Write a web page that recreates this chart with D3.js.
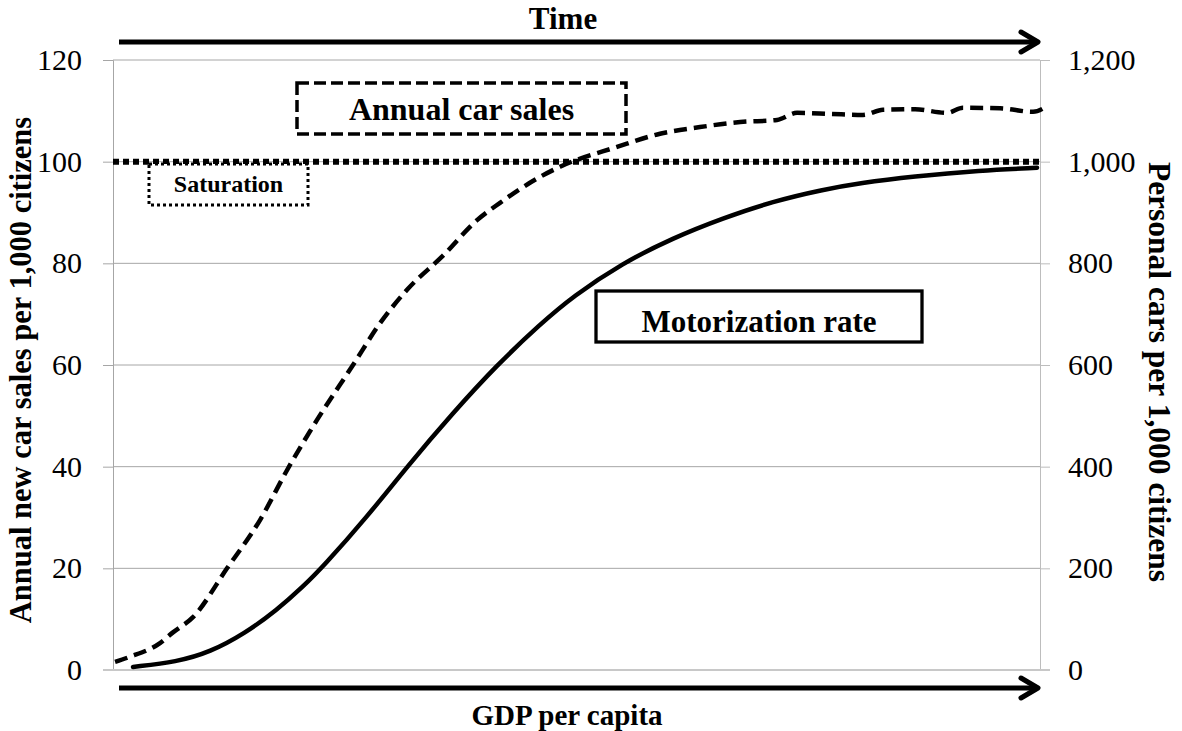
<!DOCTYPE html>
<html>
<head>
<meta charset="utf-8">
<script src="https://cdn.jsdelivr.net/npm/d3@7/dist/d3.min.js"></script>
<style>
  html, body { margin: 0; padding: 0; background: #fff; }
  svg { display: block; }
  text { font-family: "Liberation Serif", "DejaVu Serif", "Noto Serif", serif; fill: #000; }
</style>
</head>
<body>
<svg id="chart" width="1182" height="731"></svg>
<script>
// ---- data ----
const leftTicks = [0, 20, 40, 60, 80, 100, 120];
const rightTicks = [0, 200, 400, 600, 800, 1000, 1200];

// Annual car sales (left axis, per 1,000 citizens); x = relative position along GDP per capita (0–100)
const salesX = [0.22, 1.83, 5.07, 6.47, 8.63, 12.30, 15.86, 18.77, 22.01, 25.89, 28.80, 31.72, 35.60, 39.27, 41.75, 46.06, 48.22, 54.37, 59.01, 63.32, 67.66, 71.63, 73.79, 77.35, 80.91, 83.06, 86.52, 89.97, 91.69, 95.69, 99.25, 100.65];
const salesY = [1.6, 2.6, 5.3, 7.4, 10.4, 20.0, 29.5, 39.3, 49.2, 60.0, 68.2, 74.8, 81.5, 88.5, 91.9, 97.0, 99.0, 102.9, 105.5, 106.8, 107.8, 108.2, 109.6, 109.4, 109.2, 110.2, 110.3, 109.6, 110.6, 110.5, 109.8, 110.8];

// Motorization rate (right axis, personal cars per 1,000 citizens)
const motoX = [2.16, 6.90, 10.46, 14.24, 17.69, 20.50, 22.65, 27.40, 31.72, 36.68, 41.42, 46.06, 49.62, 54.91, 60.41, 65.80, 71.20, 76.59, 80.58, 86.30, 93.53, 99.68];
const motoY = [6, 16, 35, 72, 118, 164, 203, 301, 400, 506, 600, 680, 735, 800, 850, 889, 922, 945, 958, 971, 983, 988];

const saturationLevel = 1000;
const xDomain = [0, 100];

const labels = {
  top: "Time",
  bottom: "GDP per capita",
  left: "Annual new car sales per 1,000 citizens",
  right: "Personal cars per 1,000 citizens",
  sales: "Annual car sales",
  moto: "Motorization rate",
  sat: "Saturation"
};

// ---- layout ----
const FONT = '"Liberation Serif", "DejaVu Serif", "Noto Serif", serif';
const svg = d3.select("#chart");
const L = 113, R = 1040, T = 60, B = 670;
const x = d3.scaleLinear().domain(xDomain).range([L, R]);
const yL = d3.scaleLinear().domain([0, 120]).range([B, T]);
const yR = d3.scaleLinear().domain([0, 1200]).range([B, T]);

// gridlines
svg.append("g").selectAll("line").data(leftTicks.filter(d => d > 0)).join("line")
  .attr("x1", L).attr("x2", R).attr("y1", d => yL(d)).attr("y2", d => yL(d))
  .attr("stroke", "#a6a6a6").attr("stroke-width", 1);

// left axis
const gL = svg.append("g").attr("transform", `translate(${L},0)`)
  .call(d3.axisLeft(yL).tickValues(leftTicks).tickSize(10).tickPadding(21).tickFormat(d3.format("d")));
gL.attr("font-family", null);
gL.select(".domain").attr("stroke", "#a6a6a6");
gL.selectAll(".tick line").attr("stroke", "#a6a6a6");
gL.selectAll(".tick text").style("font-size", "30px").style("font-family", FONT);

// right axis
const gR = svg.append("g").attr("transform", `translate(${R},0)`)
  .call(d3.axisRight(yR).tickValues(rightTicks).tickSize(10).tickPadding(18).tickFormat(d3.format(",")));
gR.attr("font-family", null);
gR.select(".domain").attr("stroke", "#bdbdbd");
gR.selectAll(".tick line").attr("stroke", "#bdbdbd");
gR.selectAll(".tick text").style("font-size", "30px").style("font-family", FONT);

// bottom baseline
svg.append("line").attr("x1", L - 10).attr("x2", R + 10).attr("y1", B).attr("y2", B)
  .attr("stroke", "#c8c8c8").attr("stroke-width", 2);

// saturation line
svg.append("line").attr("x1", L).attr("x2", R)
  .attr("y1", yR(saturationLevel)).attr("y2", yR(saturationLevel))
  .attr("stroke", "#000").attr("stroke-width", 6).attr("stroke-dasharray", "6,4");

// sales line (dashed)
const salesData = salesX.map((v, i) => [v, salesY[i]]);
svg.append("path").datum(salesData)
  .attr("fill", "none").attr("stroke", "#000").attr("stroke-width", 4.5)
  .attr("stroke-dasharray", "13,7")
  .attr("d", d3.line().x(d => x(d[0])).y(d => yL(d[1])).curve(d3.curveMonotoneX));

// motorization line (solid)
const motoData = motoX.map((v, i) => [v, motoY[i]]);
svg.append("path").datum(motoData)
  .attr("fill", "none").attr("stroke", "#000").attr("stroke-width", 4.5)
  .attr("stroke-linecap", "round")
  .attr("d", d3.line().x(d => x(d[0])).y(d => yR(d[1])).curve(d3.curveBasis));

// annotation boxes
function box(x0, y0, w, h, sw, dash, text, fs, baseY) {
  const r = svg.append("rect").attr("x", x0).attr("y", y0).attr("width", w).attr("height", h)
    .attr("fill", "#fff").attr("stroke", "#000").attr("stroke-width", sw);
  if (dash) r.attr("stroke-dasharray", dash);
  svg.append("text").attr("x", x0 + w / 2).attr("y", baseY)
    .attr("text-anchor", "middle").style("font-weight", "bold").style("font-size", fs + "px").text(text);
}
box(297, 83, 329, 51, 3.5, "12,5", labels.sales, 32, 120);
box(149, 164, 159, 41, 3, "3,3", labels.sat, 24, 192);
box(596, 291, 326, 51, 3.3, null, labels.moto, 31, 332);

// arrows
function arrow(y) {
  svg.append("line").attr("x1", 119).attr("x2", 1038).attr("y1", y).attr("y2", y)
    .attr("stroke", "#000").attr("stroke-width", 5);
  svg.append("path").attr("d", `M1021,${y - 10} L1038,${y} L1021,${y + 10}`)
    .attr("fill", "none").attr("stroke", "#000").attr("stroke-width", 5)
    .attr("stroke-linecap", "round").attr("stroke-linejoin", "round");
}
arrow(42);
arrow(688);

// titles
svg.append("text").attr("x", 563).attr("y", 29).attr("text-anchor", "middle")
  .style("font-weight", "bold").style("font-size", "31px").text(labels.top);
svg.append("text").attr("x", 567).attr("y", 725).attr("text-anchor", "middle")
  .style("font-weight", "bold").style("font-size", "29px").text(labels.bottom);
svg.append("text").attr("transform", "translate(20,370) rotate(-90)").attr("dy", "0.35em")
  .attr("text-anchor", "middle").style("font-weight", "bold").style("font-size", "30.5px").text(labels.left);
svg.append("text").attr("transform", "translate(1160,372) rotate(90)").attr("dy", "0.35em")
  .attr("text-anchor", "middle").style("font-weight", "bold").style("font-size", "31.5px").text(labels.right);
</script>
</body>
</html>
